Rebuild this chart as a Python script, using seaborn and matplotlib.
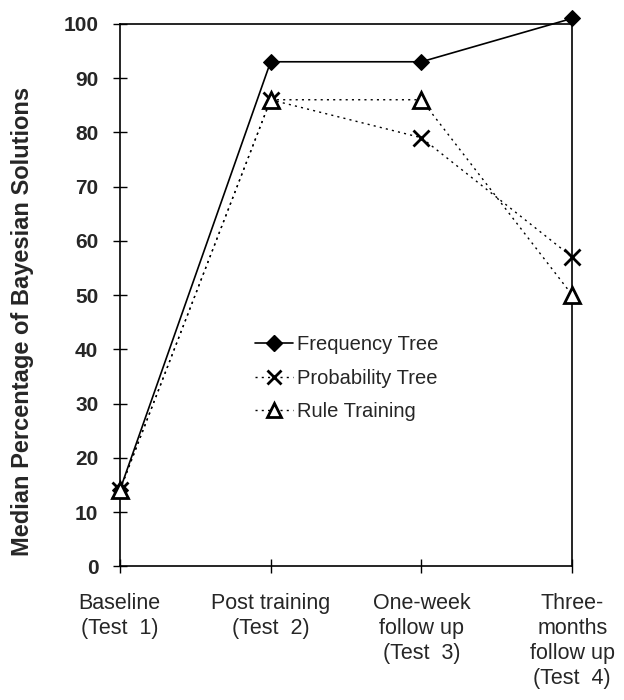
import matplotlib
matplotlib.use("Agg")
import matplotlib.pyplot as plt
import seaborn as sns
import pandas as pd
from matplotlib.lines import Line2D

# Datos
tests = ["Baseline\n(Test  1)", "Post training\n(Test  2)",
         "One-week\nfollow up\n(Test  3)", "Three-\nmonths\nfollow up\n(Test  4)"]
frequency_tree = [14, 93, 93, 101]
probability_tree = [14, 86, 79, 57]
rule_training = [14, 86, 86, 50]
y_ticks = list(range(0, 101, 10))

sns.set_style("white")
plt.rcParams["font.family"] = ["Liberation Sans", "DejaVu Sans"]

df = pd.DataFrame({
    "pos": list(range(len(tests))),
    "Frequency Tree": frequency_tree,
    "Probability Tree": probability_tree,
    "Rule Training": rule_training,
})

dotted = (0, (1.5, 3))

fig = plt.figure(figsize=(6.24, 7.0), dpi=100)
ax = fig.add_axes([0.192, 0.191, 0.725, 0.775])

sns.lineplot(data=df, x="pos", y="Frequency Tree", ax=ax, color="black",
             linestyle="-", linewidth=1.2, marker="D", markersize=8,
             markerfacecolor="black", markeredgecolor="black", clip_on=False, zorder=3)
sns.lineplot(data=df, x="pos", y="Probability Tree", ax=ax, color="black",
             linestyle=dotted, linewidth=1.0, marker="x", markersize=11,
             markeredgecolor="black", markeredgewidth=2.0, clip_on=False, zorder=3)
sns.lineplot(data=df, x="pos", y="Rule Training", ax=ax, color="black",
             linestyle=dotted, linewidth=1.0, marker="^", markersize=11,
             markerfacecolor="white", markeredgecolor="black", markeredgewidth=2.0,
             clip_on=False, zorder=3)

ax.set_xlim(0, len(tests) - 1)
ax.set_ylim(0, 100)
ax.set_xticks(range(len(tests)))
ax.set_xticklabels(tests, fontsize=15.5, linespacing=1.25, va="top")
ax.set_yticks(y_ticks)
ax.set_yticklabels([str(t) for t in y_ticks], fontsize=15, fontweight="bold")
ax.tick_params(axis="both", direction="inout", length=10, width=1.0, color="black",
               bottom=True, left=True)
ax.tick_params(axis="x", pad=14)
ax.tick_params(axis="y", pad=10.5)
for s in ax.spines.values():
    s.set_color("black")
    s.set_linewidth(1.2)

ax.set_xlabel("")
ax.set_ylabel("Median Percentage of Bayesian Solutions", fontsize=17,
              fontweight="bold")
ax.yaxis.set_label_coords(-0.19, 0.452)

handles = [
    Line2D([], [], color="black", linestyle="-", linewidth=1.2, marker="D",
           markersize=8, markerfacecolor="black"),
    Line2D([], [], color="black", linestyle=dotted, linewidth=1.0, marker="x",
           markersize=10, markeredgewidth=2.0),
    Line2D([], [], color="black", linestyle=dotted, linewidth=1.0, marker="^",
           markersize=10, markerfacecolor="white", markeredgewidth=2.0),
]
ax.legend(handles, ["Frequency Tree", "Probability Tree", "Rule Training"],
          loc="upper left", bbox_to_anchor=(0.277, 0.444), frameon=False,
          fontsize=14.5, handlelength=1.9, handletextpad=0.2, labelspacing=0.72,
          borderpad=0)

fig.savefig("out.png", dpi=100)
